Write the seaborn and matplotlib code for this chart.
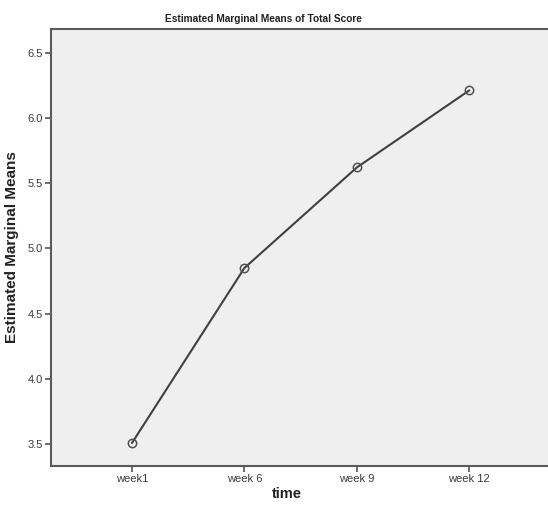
import matplotlib
matplotlib.use("Agg")
import matplotlib.pyplot as plt
import seaborn as sns
import pandas as pd

# data
weeks = ["week1", "week 6", "week 9", "week 12"]
means = [3.51, 4.85, 5.62, 6.21]
y_ticks = [3.5, 4.0, 4.5, 5.0, 5.5, 6.0, 6.5]

sns.set_theme(style="white")
narrow = ["Liberation Sans Narrow", "Liberation Sans", "DejaVu Sans"]
regular = ["Liberation Sans", "DejaVu Sans"]
plt.rcParams["font.family"] = regular

df = pd.DataFrame({"time": weeks, "mean": means})

fig = plt.figure(figsize=(5.48, 5.13), dpi=100)
ax_w = 1.0 - 51 / 548 + 0.02
ax = fig.add_axes([51 / 548, 47 / 513, ax_w, (466 - 29) / 513])
ax.set_facecolor("#efefef")

x_pos = list(range(len(weeks)))
sns.lineplot(x=x_pos, y=means, ax=ax, color="#404040", linewidth=1.5,
             marker="o", markersize=6, markerfacecolor="none",
             markeredgecolor="#505050", markeredgewidth=1.1, sort=False)

ax.set_xlim(-0.72, 3.70 + 0.02 * 548 / 112.5)
ax.set_ylim(3.334, 6.68)
ax.set_xticks(x_pos)
ax.set_xticklabels(weeks, family=narrow, fontsize=8, color="#3a3a3a")
ax.set_yticks(y_ticks)
ax.set_yticklabels([f"{v:.1f}" for v in y_ticks], family=narrow, fontsize=8, color="#3a3a3a")
ax.tick_params(axis="both", direction="out", length=4, width=1.2, color="#555555",
               bottom=True, left=True, pad=2)

for side in ["left", "bottom", "top"]:
    ax.spines[side].set_visible(True)
    ax.spines[side].set_color("#5a5a5a")
    ax.spines[side].set_linewidth(1.5)
ax.spines["right"].set_visible(False)

ax_px = ax_w * 548
ax.set_xlabel("time", fontsize=10.5, fontweight="bold", color="#222222", family=regular)
ax.xaxis.set_label_coords((287 - 51) / ax_px, -0.048)
ax.set_ylabel("Estimated Marginal Means", fontsize=11, fontweight="bold",
              color="#222222", family=regular)
ax.yaxis.set_label_coords((19 - 51) / ax_px, 0.5)

fig.text(263 / 548, 1 - 19 / 513, "Estimated Marginal Means of Total Score",
         ha="center", va="center", fontsize=7.3, fontweight="bold",
         family=narrow, color="#222222")

fig.savefig("out.png", dpi=100, facecolor="white")
